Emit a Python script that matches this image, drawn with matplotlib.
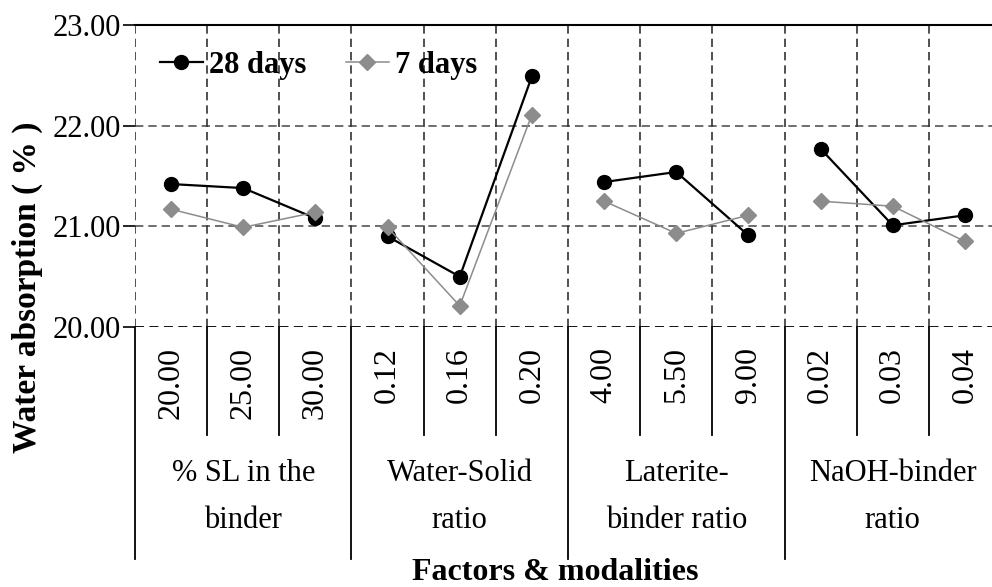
import numpy as np
import matplotlib
matplotlib.use("Agg")
import matplotlib.pyplot as plt
from matplotlib.lines import Line2D

plt.rcParams['font.family'] = ['Liberation Serif', 'DejaVu Serif']

# data
modalities = ['20.00', '25.00', '30.00', '0.12', '0.16', '0.20',
              '4.00', '5.50', '9.00', '0.02', '0.03', '0.04']
factors = ['% SL in the\nbinder', 'Water-Solid\nratio',
           'Laterite-\nbinder ratio', 'NaOH-binder\nratio']
days28 = [21.42, 21.38, 21.08, 20.90, 20.50, 22.49,
          21.44, 21.54, 20.91, 21.77, 21.01, 21.11]
days7 = [21.17, 20.99, 21.14, 20.99, 20.21, 22.11,
         21.25, 20.93, 21.11, 21.25, 21.20, 20.85]
yticks = [20, 21, 22, 23]

W, H = 992, 587
fig = plt.figure(figsize=(W / 100, H / 100), dpi=100)
ax = fig.add_axes([135 / W, 1 - 327 / H, 866 / W, 302 / H])

x = np.arange(len(modalities))
n_grp = 3

#one polyline per factor, not joined across groups
for g in range(len(factors)):
    s = slice(g * n_grp, (g + 1) * n_grp)
    ax.plot(x[s], days28[s], color='black', lw=1.6, marker='o',
            markersize=10, zorder=3)
    ax.plot(x[s], days7[s], color='#8c8c8c', lw=1.1, marker='D',
            markersize=8.5, zorder=4)

ax.set_xlim(-0.5, len(modalities) - 0.5)
ax.set_ylim(20, 23)

# grid
for yv in [21, 22]:
    ax.axhline(yv, color='#555555', lw=1.2, ls=(0, (5, 3)), zorder=1)
ax.axhline(20, color='black', lw=1.3, ls=(0, (5, 3)), zorder=1)
bounds = np.arange(-0.5, len(modalities), 1.0)
ax.vlines(bounds, 20, 23, colors='#333333', lw=1.2,
          linestyles=(0, (5, 3)), zorder=1)

for sp in ['left', 'right', 'bottom']:
    ax.spines[sp].set_visible(False)
ax.spines['top'].set_linewidth(1.5)

ax.set_xticks([])
ax.set_yticks(yticks)
ax.set_yticklabels(['%.2f' % v for v in yticks], fontsize=22)
ax.tick_params(axis='y', direction='out', length=9, width=1.2, pad=1)

# table under the plot
tr = ax.get_xaxis_transform()
for b in bounds:
    if int(b + 0.5) % n_grp == 0:
        ax.plot([b, b], [0, -0.768], color='black', lw=1.3, transform=tr, clip_on=False)
    else:
        ax.plot([b, b], [0, -0.358], color='black', lw=1.3, transform=tr, clip_on=False)

for i, lab in enumerate(modalities):
    ax.text(i, -0.065, lab, rotation=90, ha='center', va='top', fontsize=23,
            transform=tr)

for g, lab in enumerate(factors):
    ax.text(g * n_grp + 1, -0.563, lab, ha='center', va='center', fontsize=22,
            linespacing=1.8, transform=tr)

fig.text(555 / W, 1 - 572 / H, 'Factors & modalities', ha='center', va='center',
         fontsize=23, fontweight='bold')
fig.text(27 / W, 1 - 287 / H, 'Water absorption ( % )', ha='center', va='center',
         rotation=90, fontsize=24, fontweight='bold')

handles = [Line2D([], [], color='black', lw=1.6, marker='o', markersize=10),
           Line2D([], [], color='#8c8c8c', lw=1.1, marker='D', markersize=8.5)]
ax.legend(handles, ['28 days', '7 days'], loc='upper left', ncol=2,
          bbox_to_anchor=(-0.003, 1.005), frameon=False,
          prop={'weight': 'bold', 'size': 22}, handlelength=1.4,
          handletextpad=0.2, columnspacing=1.3)

fig.savefig('out.png', dpi=100)
